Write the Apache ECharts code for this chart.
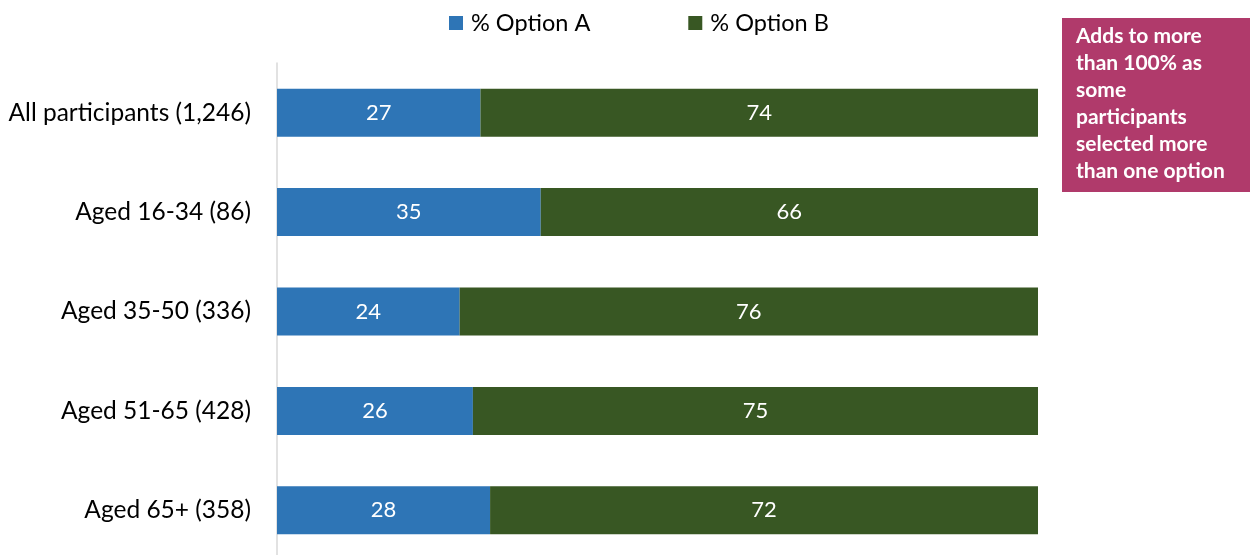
<!DOCTYPE html>
<html>
<head>
<meta charset="utf-8">
<script src="https://cdn.jsdelivr.net/npm/echarts@6/dist/echarts.min.js"></script>
<style>
  html, body { margin: 0; padding: 0; background: #fff; overflow: hidden; }
  /* the plot runs a few pixels past the bottom edge of the window */
  #chart { width: 1255px; height: 566px; }
</style>
</head>
<body>
<div id="chart"></div>
<script>
// Age groups, top to bottom
const categories = [
  'All participants (1,246)',
  'Aged 16-34 (86)',
  'Aged 35-50 (336)',
  'Aged 51-65 (428)',
  'Aged 65+ (358)'
];
const optionA = [27, 35, 24, 26, 28];
const optionB = [74, 66, 76, 75, 72];
const seriesNames = ['% Option A', '% Option B'];
const noteText = 'Adds to more\nthan 100% as\nsome\nparticipants\nselected more\nthan one option';

const FONT = 'Lato, "Liberation Sans", sans-serif';

// Bars are scaled to fill the row (each row spans the full width),
// labels show the reported percentages.
const totals = optionA.map((a, i) => a + optionB[i]);
const share = (arr) => arr.map((v, i) => ({ value: v / totals[i] * 100, raw: v }));

const chart = echarts.init(document.getElementById('chart'), null, { renderer: 'canvas' });

const labelCfg = {
  show: true,
  position: 'inside',
  color: '#ffffff',
  fontFamily: FONT,
  fontSize: 22,
  formatter: (p) => p.data.raw
};

chart.setOption({
  animation: false,
  backgroundColor: '#ffffff',
  legend: {
    top: 6,
    left: 444,
    itemWidth: 14,
    itemHeight: 14,
    itemGap: 98,
    icon: 'rect',
    textStyle: { fontFamily: FONT, fontSize: 23.5, color: '#000', padding: [0, 0, 0, 3] },
    data: seriesNames
  },
  grid: { left: 277, width: 761, top: 63, height: 497, containLabel: false },
  xAxis: {
    type: 'value',
    min: 0,
    max: 100,
    show: false
  },
  yAxis: {
    type: 'category',
    inverse: true,
    data: categories,
    axisLine: { show: true, lineStyle: { color: '#d9d9d9', width: 1.5 } },
    axisTick: { show: false },
    axisLabel: { margin: 26, color: '#000', fontFamily: FONT, fontSize: 24.5 }
  },
  series: [
    {
      name: seriesNames[0],
      type: 'bar',
      stack: 'total',
      barWidth: 48,
      itemStyle: { color: '#2e75b6' },
      label: labelCfg,
      data: share(optionA)
    },
    {
      name: seriesNames[1],
      type: 'bar',
      stack: 'total',
      barWidth: 48,
      itemStyle: { color: '#385723' },
      label: labelCfg,
      data: share(optionB)
    }
  ],
  graphic: [
    {
      type: 'group',
      left: 1062,
      top: 18,
      children: [
        {
          type: 'rect',
          shape: { x: 0, y: 0, width: 188, height: 174 },
          style: { fill: '#b03a6b' }
        },
        {
          type: 'text',
          x: 14,
          y: 5,
          style: {
            text: noteText,
            fill: '#ffffff',
            font: 'bold 21px ' + FONT,
            lineHeight: 27
          }
        }
      ]
    }
  ]
});
</script>
</body>
</html>
